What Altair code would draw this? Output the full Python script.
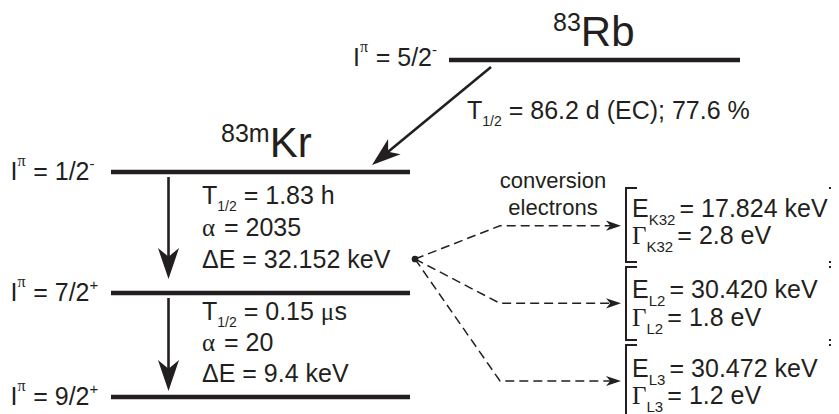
import altair as alt
import pandas as pd
import numpy as np

INK = "#231f20"
W, H = 823, 406          # plot area (image pixels 8..831, 8..414)

# ---------------- data (image-pixel coordinates of the decay scheme) -------------
# energy levels
level_names = ["83Rb 5/2-", "83mKr 1/2-", "83Kr 7/2+", "83Kr 9/2+"]
level_x1 = [449, 111, 111, 111]
level_x2 = [740, 410, 410, 410]
level_y = [60, 172, 293, 397]

# spin / parity labels
spin_values = ["5/2", "1/2", "7/2", "9/2"]
parity_signs = ["-", "-", "+", "+"]
spin_label_x = [353, 10.5, 10.5, 10.5]
spin_label_y = [66, 180, 301, 405]

# transitions (arrows): start, tip, head length
arrow_x0 = [168.5, 168.5, 491]
arrow_y0 = [177, 298, 67]
arrow_x1 = [168.5, 168.5, 372]
arrow_y1 = [279, 391, 165]
arrow_head = [31, 31, 29]

# conversion electrons
ce_origin = (415, 259)
ce_knee_x = 500
ce_end_x = 621
ce_y = [225.7, 303.3, 381]
ce_sub = ["K32", "L2", "L3"]
ce_energy = ["17.824 keV", "30.420 keV", "30.472 keV"]
ce_width = ["2.8 eV", "1.8 eV", "1.2 eV"]
ce_text_yE = [217, 298, 377]
ce_text_yG = [244, 326, 404]
bracket_top = [188, 267, 345]
bracket_bot = [262, 340, 424]

# transition properties
kr_lines_y = [204, 236, 268, 320, 351, 382]
t_half = ["1.83 h", "0.15 "]
alpha_vals = ["2035", "20"]
delta_e = ["32.152 keV", "9.4 keV"]
ec_label = " = 86.2 d (EC); 77.6 %"

# ---------------- text layout helpers -------------
SANS_W = {' ': .278, '%': .889, '(': .333, ')': .333, '+': .584, '-': .333, '.': .278,
          '/': .278, ';': .278, '=': .584, 'C': .722, 'E': .667, 'I': .278, 'K': .667,
          'L': .556, 'R': .722, 'T': .611, 'V': .667, 'b': .556, 'c': .5, 'd': .556,
          'e': .556, 'h': .556, 'i': .222, 'k': .5, 'l': .222, 'm': .833, 'n': .556,
          'o': .556, 'r': .333, 's': .5, 't': .278, 'v': .5, 'Δ': .668}
SERIF_W = {' ': .25, 'α': .6, 'Γ': .58, 'μ': .55, 'π': .55}
STYLES = {
    'm': ('sans', 25, 0), 'g': ('serif', 25, 0), 'sub': ('sans', 14, 7),
    'subE': ('sans', 15, 8), 'subG': ('sans', 15, 8), 'supPi': ('serif', 16, -14),
    'supS': ('sans', 15, -11), 'big': ('sans', 42, 0), 'iso': ('sans', 25, -15),
    'small': ('sans', 22, 0),
}


def twidth(s, fam, size):
    tab = SANS_W if fam == 'sans' else SERIF_W
    return sum(tab.get(c, .556) for c in s) * size


rows = []


def place(x, y, parts):
    for text, style in parts:
        fam, size, dy = STYLES[style]
        body = text.lstrip(' ')
        x += twidth(' ' * (len(text) - len(body)), fam, size)
        if body.strip():
            rows.append(dict(x=x, y=y + dy, text=body.rstrip(), size=size, fam=fam))
        x += twidth(body, fam, size)


for v, s, lx, ly in zip(spin_values, parity_signs, spin_label_x, spin_label_y):
    place(lx, ly, [("I", 'm'), ("π", 'supPi'), (" = " + v, 'm'), (s, 'supS')])

place(553, 46, [("83", 'iso'), ("Rb", 'big')])
place(221, 157, [("83m", 'iso'), ("Kr", 'big')])
place(467, 119, [("T", 'm'), ("1/2", 'sub'), (ec_label, 'm')])

place(202, kr_lines_y[0], [("T", 'm'), ("1/2", 'sub'), (" = " + t_half[0], 'm')])
place(202, kr_lines_y[1], [("α", 'g'), (" = " + alpha_vals[0], 'm')])
place(202, kr_lines_y[2], [("ΔE = " + delta_e[0], 'm')])
place(202, kr_lines_y[3], [("T", 'm'), ("1/2", 'sub'), (" = " + t_half[1], 'm'), ("μ", 'g'), ("s", 'm')])
place(202, kr_lines_y[4], [("α", 'g'), (" = " + alpha_vals[1], 'm')])
place(202, kr_lines_y[5], [("ΔE = " + delta_e[1], 'm')])

for word, yy in [("conversion", 188), ("electrons", 215)]:
    place(553 - twidth(word, 'sans', 22) / 2, yy, [(word, 'small')])

for sub, en, wd, yE, yG in zip(ce_sub, ce_energy, ce_width, ce_text_yE, ce_text_yG):
    place(632, yE, [("E", 'm'), (sub, 'subE'), (" ", 'subE'), ("= " + en, 'm')])
    place(632, yG, [("Γ", 'g'), (sub, 'subG'), (" ", 'subG'), ("= " + wd, 'm')])

text_df = pd.DataFrame(rows)

# ---------------- geometry tables -------------
levels_df = pd.DataFrame(dict(name=level_names, x1=level_x1, x2=level_x2, y=level_y))

ax0, ay0 = np.array(arrow_x0, float), np.array(arrow_y0, float)
ax1, ay1 = np.array(arrow_x1, float), np.array(arrow_y1, float)
dx, dy = ax1 - ax0, ay1 - ay0
ln = np.hypot(dx, dy)
ux, uy = dx / ln, dy / ln
hl = np.array(arrow_head, float)
shaft_df = pd.DataFrame(dict(x=ax0, y=ay0, x2=ax1 - ux * hl * 0.6, y2=ay1 - uy * hl * 0.6))

head_x = list(ax1) + [ce_end_x] * len(ce_y)
head_y = list(ay1) + list(ce_y)
head_angle = list(np.degrees(np.arctan2(-ux, uy)) % 360) + [270.0] * len(ce_y)
head_size = list((2 * hl) ** 2) + [(2 * 15) ** 2] * len(ce_y)
heads_df = pd.DataFrame(dict(x=head_x, y=head_y, angle=head_angle, size=head_size))

ce_rows = []
for i, yy in enumerate(ce_y):
    for o, (px, py) in enumerate([ce_origin, (ce_knee_x, yy), (ce_end_x - 6, yy)]):
        ce_rows.append(dict(path=i, ord=o, x=px, y=py))
ce_df = pd.DataFrame(ce_rows)
dot_df = pd.DataFrame(dict(x=[ce_origin[0]], y=[ce_origin[1]]))

br_rows = []
for i, (t, b) in enumerate(zip(bracket_top, bracket_bot)):
    for o, (px, py) in enumerate([(637, t), (626, t), (626, b), (637, b)]):
        br_rows.append(dict(path=f"L{i}", ord=o, x=px, y=py))
    for o, (px, py) in enumerate([(829, t), (845, t), (845, b), (829, b)]):
        br_rows.append(dict(path=f"R{i}", ord=o, x=px, y=py))
br_df = pd.DataFrame(br_rows)

# ---------------- chart -------------
xs = alt.Scale(domain=[8, 8 + W], nice=False, zero=False)
ys = alt.Scale(domain=[8, 8 + H], nice=False, zero=False, reverse=True)
X = lambda f="x": alt.X(f"{f}:Q", scale=xs, axis=None)
Y = lambda f="y": alt.Y(f"{f}:Q", scale=ys, axis=None)

levels = alt.Chart(levels_df).mark_rule(strokeWidth=4.5, color=INK).encode(
    x=X("x1"), x2="x2:Q", y=Y())

shafts = alt.Chart(shaft_df).mark_rule(strokeWidth=2.6, color=INK).encode(
    x=X(), y=Y(), x2="x2:Q", y2="y2:Q")

heads = alt.Chart(heads_df).mark_point(
    shape="M0,0 L-0.34,-1 L0,-0.72 L0.34,-1 Z", filled=True, opacity=1,
    color=INK, strokeWidth=0).encode(
    x=X(), y=Y(), size=alt.Size("size:Q", scale=None),
    angle=alt.Angle("angle:Q", scale=None))

ce_lines = alt.Chart(ce_df).mark_line(strokeDash=[9, 5], strokeWidth=1.5, color=INK).encode(
    x=X(), y=Y(), detail="path:N", order="ord:Q")

dot = alt.Chart(dot_df).mark_point(filled=True, opacity=1, size=45, color=INK).encode(
    x=X(), y=Y())

brackets = alt.Chart(br_df).mark_line(strokeWidth=2, color=INK).encode(
    x=X(), y=Y(), detail="path:N", order="ord:Q")

sans = alt.Chart(text_df[text_df.fam == "sans"]).mark_text(
    align="left", baseline="alphabetic", font="Liberation Sans", color=INK).encode(
    x=X(), y=Y(), text="text:N", size=alt.Size("size:Q", scale=None))

serif = alt.Chart(text_df[text_df.fam == "serif"]).mark_text(
    align="left", baseline="alphabetic", font="Liberation Serif", color=INK).encode(
    x=X(), y=Y(), text="text:N", size=alt.Size("size:Q", scale=None))

chart = alt.layer(levels, shafts, heads, ce_lines, dot, brackets, sans, serif).properties(
    width=W, height=H, autosize=alt.AutoSizeParams(type="none"), padding=0
).configure_view(stroke=None)

chart.save("out.html", embed_options={"renderer": "svg", "actions": False})
